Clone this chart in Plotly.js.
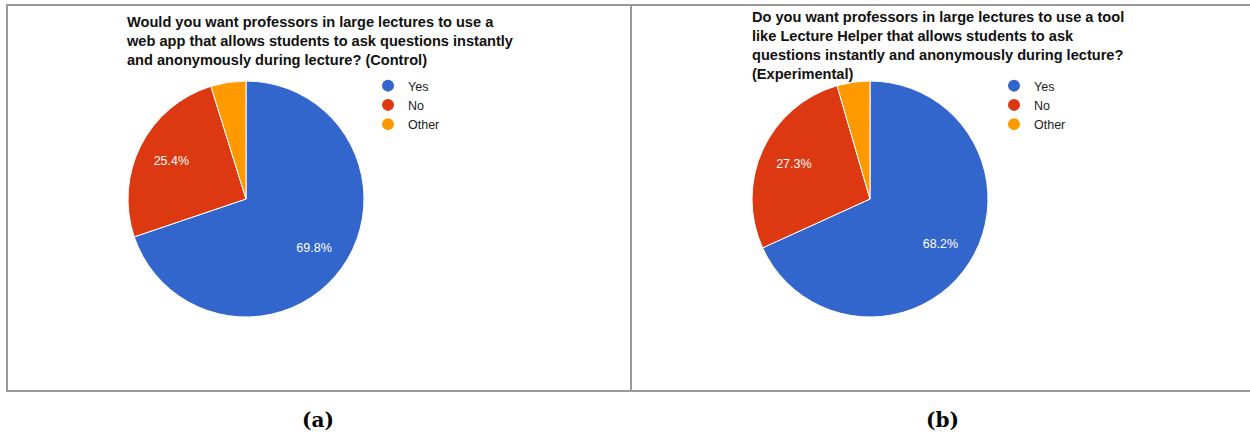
<!DOCTYPE html>
<html>
<head>
<meta charset="utf-8">
<script src="https://cdn.plot.ly/plotly-3.0.1.min.js"></script>
<style>
html,body{margin:0;padding:0;background:#fff;}
#chart{width:1250px;height:434px;}
</style>
</head>
<body>
<div id="chart"></div>
<script>
// ---- data ----
const categories = ["Yes", "No", "Other"];
const controlValues = [69.8, 25.4, 4.8];
const experimentalValues = [68.2, 27.3, 4.5];
const sliceColors = ["#3366cc", "#dc3912", "#ff9900"];
const titleA = "Would you want professors in large lectures to use a<br>web app that allows students to ask questions instantly<br>and anonymously during lecture? (Control)";
const titleB = "Do you want professors in large lectures to use a tool<br>like Lecture Helper that allows students to ask<br>questions instantly and anonymously during lecture?<br>(Experimental)";
const captions = ["(a)", "(b)"];

const W = 1250, H = 434;
const px = x => x / W;
const py = y => (H - y) / H;

function pieTrace(values, xd) {
  return {
    type: "pie",
    labels: categories,
    values: values,
    sort: false,
    direction: "clockwise",
    rotation: 0,
    marker: {colors: sliceColors, line: {color: "#ffffff", width: 1}},
    textinfo: "none",
    hoverinfo: "label+percent",
    showlegend: false,
    domain: {x: [px(xd[0]), px(xd[1])], y: [py(317), py(81)]}
  };
}
// transparent ring overlay used only to place the percentage labels further out
function labelTrace(values, xd) {
  return {
    type: "pie",
    labels: categories,
    values: values,
    sort: false,
    direction: "clockwise",
    rotation: 0,
    hole: 0.42,
    marker: {colors: ["rgba(0,0,0,0)", "rgba(0,0,0,0)", "rgba(0,0,0,0)"], line: {width: 0}},
    texttemplate: "%{percent:.1%}",
    textposition: ["inside", "inside", "none"],
    insidetextorientation: "horizontal",
    insidetextfont: {family: "Liberation Sans, Arial, sans-serif", size: 12.5, color: "#ffffff"},
    hoverinfo: "skip",
    showlegend: false,
    domain: {x: [px(xd[0]), px(xd[1])], y: [py(317), py(81)]}
  };
}

const traces = [
  pieTrace(controlValues, [128, 364]),
  pieTrace(experimentalValues, [752, 988]),
  labelTrace(controlValues, [128, 364]),
  labelTrace(experimentalValues, [752, 988])
];

// legend entries (circle markers), one set per panel
["legend", "legend2"].forEach(lg => {
  categories.forEach((c, i) => {
    traces.push({
      type: "scatter", mode: "markers", x: [null], y: [null],
      name: c, legend: lg, showlegend: true,
      marker: {symbol: "circle", size: 12, color: sliceColors[i]},
      hoverinfo: "skip"
    });
  });
});

const legendStyle = {
  font: {family: "Liberation Sans, Arial, sans-serif", size: 12.5, color: "#222222"},
  bgcolor: "rgba(0,0,0,0)", borderwidth: 0,
  xanchor: "left", yanchor: "top", orientation: "v",
  itemwidth: 30, tracegroupgap: 0, itemclick: false, itemdoubleclick: false
};

const titleFont = {family: "Liberation Sans, Arial, sans-serif", size: 14.6, color: "#111111", weight: "bold"};
const capFont = {family: "DejaVu Serif, serif", size: 20, color: "#000000", weight: "bold"};

const layout = {
  width: W, height: H,
  margin: {l: 0, r: 0, t: 0, b: 0},
  paper_bgcolor: "#ffffff", plot_bgcolor: "rgba(0,0,0,0)",
  xaxis: {visible: false, range: [0, 1]},
  yaxis: {visible: false, range: [0, 1]},
  showlegend: true,
  legend: Object.assign({}, legendStyle, {x: px(368), y: py(71)}),
  legend2: Object.assign({}, legendStyle, {x: px(994), y: py(71)}),
  shapes: [
    {type: "rect", xref: "paper", yref: "paper", x0: px(7), x1: px(631), y0: py(391), y1: py(5),
     line: {color: "#9a9a9a", width: 2}},
    {type: "rect", xref: "paper", yref: "paper", x0: px(631), x1: px(1252), y0: py(391), y1: py(5),
     line: {color: "#9a9a9a", width: 2}}
  ],
  annotations: [
    {text: titleA, xref: "paper", yref: "paper", x: px(124), y: py(12), xanchor: "left", yanchor: "top",
     align: "left", showarrow: false, font: titleFont},
    {text: titleB, xref: "paper", yref: "paper", x: px(750), y: py(7), xanchor: "left", yanchor: "top",
     align: "left", showarrow: false, font: titleFont},
    {text: captions[0], xref: "paper", yref: "paper", x: px(318), y: py(420), xanchor: "center", yanchor: "middle",
     showarrow: false, font: capFont},
    {text: captions[1], xref: "paper", yref: "paper", x: px(942), y: py(420), xanchor: "center", yanchor: "middle",
     showarrow: false, font: capFont}
  ]
};

Plotly.newPlot("chart", traces, layout, {displayModeBar: false, staticPlot: true});
</script>
</body>
</html>
